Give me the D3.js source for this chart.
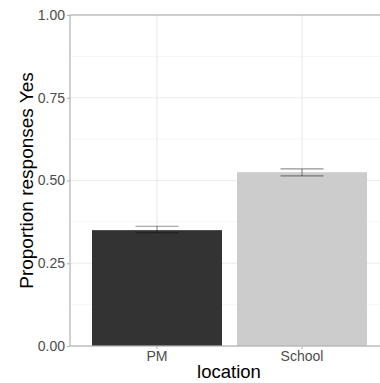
<!DOCTYPE html>
<html><head><meta charset="utf-8">
<script src="https://cdn.jsdelivr.net/npm/d3@7"></script>
<style>body{margin:0;background:#fff}svg{display:block;font-family:"Liberation Sans",Arial,sans-serif}</style>
</head><body>
<script>
const categories = ["PM", "School"];
const values = [0.350, 0.525];
const errLow = [0.342, 0.514];
const errHigh = [0.362, 0.535];
const barColors = ["#333333", "#cccccc"];
const yTicks = [0, 0.25, 0.5, 0.75, 1.0];
const yMinor = [0.125, 0.375, 0.625, 0.875];
const xTitle = "location";
const yTitle = "Proportion responses Yes";

const W = 380, H = 383;
const mLeft = 70, mTop = 15, mBottom = 346, mRight = 389;
const svg = d3.select("body").append("svg").attr("width", W).attr("height", H);

const x = d3.scaleBand().domain(categories).range([mLeft, mRight]).paddingInner(0.1034).paddingOuter(0.1517);
const y = d3.scaleLinear().domain([0, 1]).range([mBottom, mTop]);

const g = svg.append("g");
g.selectAll(".minor").data(yMinor).join("line")
  .attr("x1", mLeft).attr("x2", mRight).attr("y1", d => y(d)).attr("y2", d => y(d))
  .attr("stroke", "#f2f2f2").attr("stroke-width", 0.7);
g.selectAll(".major").data(yTicks).join("line")
  .attr("x1", mLeft).attr("x2", mRight).attr("y1", d => y(d)).attr("y2", d => y(d))
  .attr("stroke", "#ebebeb").attr("stroke-width", 1.1);
g.selectAll(".vgrid").data(categories).join("line")
  .attr("x1", d => x(d) + x.bandwidth() / 2).attr("x2", d => x(d) + x.bandwidth() / 2)
  .attr("y1", mTop).attr("y2", mBottom)
  .attr("stroke", "#ebebeb").attr("stroke-width", 1.1);

g.selectAll(".bar").data(categories).join("rect")
  .attr("x", d => x(d)).attr("width", x.bandwidth())
  .attr("y", (d, i) => y(values[i])).attr("height", (d, i) => y(0) - y(values[i]))
  .attr("fill", (d, i) => barColors[i]);

const ew = 43;
categories.forEach((c, i) => {
  const cx = x(c) + x.bandwidth() / 2;
  const eg = g.append("g").attr("stroke", "#000").attr("stroke-opacity", 0.42).attr("stroke-width", 1.1);
  eg.append("line").attr("x1", cx - ew / 2).attr("x2", cx + ew / 2).attr("y1", y(errHigh[i])).attr("y2", y(errHigh[i]));
  eg.append("line").attr("x1", cx - ew / 2).attr("x2", cx + ew / 2).attr("y1", y(errLow[i])).attr("y2", y(errLow[i]));
  eg.append("line").attr("x1", cx).attr("x2", cx).attr("y1", y(errHigh[i])).attr("y2", y(errLow[i]));
});

svg.append("rect").attr("x", mLeft).attr("y", mTop).attr("width", mRight - mLeft).attr("height", mBottom - mTop)
  .attr("fill", "none").attr("stroke", "#b3b3b3").attr("stroke-width", 1.2);

const yAxis = d3.axisLeft(y).tickValues(yTicks).tickFormat(d3.format(".2f")).tickSize(3).tickPadding(2);
const ya = svg.append("g").attr("transform", `translate(${mLeft},0)`).call(yAxis);
ya.select(".domain").remove();
ya.selectAll(".tick line").attr("stroke", "#b3b3b3").attr("stroke-width", 1.1);
ya.selectAll(".tick text").attr("fill", "#4d4d4d").attr("font-size", "14px").attr("font-family", "Liberation Sans, Arial, sans-serif");

const xAxis = d3.axisBottom(x).tickSize(3).tickPadding(2);
const xa = svg.append("g").attr("transform", `translate(0,${mBottom})`).call(xAxis);
xa.select(".domain").remove();
xa.selectAll(".tick line").attr("stroke", "#b3b3b3").attr("stroke-width", 1.1);
xa.selectAll(".tick text").attr("fill", "#4d4d4d").attr("font-size", "14px").attr("font-family", "Liberation Sans, Arial, sans-serif");

svg.append("text").attr("x", 229).attr("y", 378).attr("text-anchor", "middle")
  .attr("font-size", "18.5px").attr("fill", "#000").text(xTitle);
svg.append("text").attr("transform", `translate(33,${(mTop + mBottom) / 2}) rotate(-90)`).attr("text-anchor", "middle")
  .attr("font-size", "19px").attr("fill", "#000").text(yTitle);
</script>
</body></html>
